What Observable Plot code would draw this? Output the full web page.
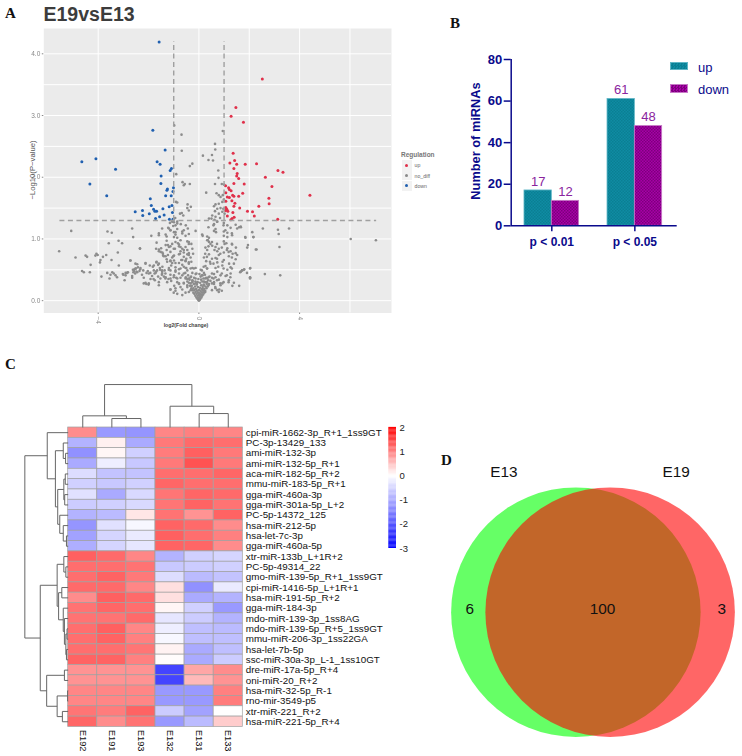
<!DOCTYPE html>
<html><head><meta charset="utf-8">
<script src="https://cdn.jsdelivr.net/npm/d3@7"></script>
<script src="https://cdn.jsdelivr.net/npm/@observablehq/plot@0.6"></script>
<style>
html,body{margin:0;padding:0;background:#fff}
#page{position:relative;width:742px;height:756px;overflow:hidden;font-family:"Liberation Sans",Arial,sans-serif}
#page>div,#page>span{position:absolute}
.p svg{display:block;background:transparent!important}
.let{font:bold 15px "Liberation Serif",serif;color:#111;line-height:1}
</style></head><body><div id="page"></div>
<script>
// ---------- Panel A: volcano ----------
const volcanoTitle = "E19vsE13";
const blueVolcano = [[-1.58,4.19],[-1.83,2.76],[-1.34,2.44],[-4.65,2.25],[-4.09,2.30],[-3.31,2.13],[-4.33,1.89],[-3.66,1.70],[-1.66,2.25],[-1.54,2.21],[-1.09,2.14],[-1.14,2.11],[-1.50,2.02],[-1.51,1.90],[-1.01,1.83],[-1.03,1.77],[-1.25,1.81],[-1.27,1.79],[-1.32,1.70],[-1.10,1.70],[-1.93,1.65],[-1.89,1.54],[-1.80,1.48],[-2.53,1.44],[-2.24,1.46],[-2.23,1.38],[-1.97,1.41],[-1.75,1.45],[-1.68,1.45],[-1.43,1.49],[-1.18,1.52],[-1.07,1.54],[-1.05,1.43],[-1.38,1.39],[-1.56,1.36],[-1.72,1.33],[-1.17,1.32],[-1.03,1.32]];
const redVolcano = [[2.52,3.59],[1.47,3.13],[1.28,2.99],[1.77,2.89],[1.36,2.39],[1.42,2.27],[1.23,2.23],[1.50,2.21],[1.84,2.21],[2.29,2.22],[3.14,2.11],[3.34,2.08],[1.39,2.14],[1.52,2.06],[1.50,2.02],[1.58,1.98],[2.64,2.00],[1.80,1.89],[1.39,1.90],[1.06,1.86],[1.18,1.83],[1.21,1.80],[2.90,1.85],[1.28,1.78],[1.07,1.75],[1.74,1.74],[1.34,1.71],[1.58,1.69],[1.39,1.69],[1.13,1.68],[1.21,1.67],[4.41,1.71],[2.78,1.66],[2.79,1.57],[1.31,1.62],[1.07,1.61],[1.43,1.58],[1.39,1.53],[1.62,1.50],[2.38,1.53],[1.07,1.51],[1.11,1.48],[1.06,1.46],[1.15,1.45],[1.93,1.45],[2.13,1.44],[1.35,1.43],[2.20,1.37],[1.13,1.37],[1.40,1.35],[1.32,1.33],[3.13,1.32],[1.27,1.31]];
const grayVolcano = [
[-.98,2.84],[-.69,2.69],[-.68,2.43],[.95,2.75],[.64,2.54],[.65,2.45],[.16,2.35],[.52,2.36],[.38,2.28],[.56,2.27],[-.26,2.22],[-.36,2.18],[.77,2.11],[.78,1.99],[-.9,2.05],[-.65,1.92],[-.56,1.89],[-.36,1.89],[-.6,1.87],[.29,1.75],[.64,1.89],[.91,1.89],[1,1.88],[.7,1.74],[.79,1.71],[.86,1.68],[.95,1.71],[.99,1.64],[.93,1.6],[.79,1.57],[.66,1.56],[.6,1.53],[.73,1.49],[.86,1.5],[.97,1.49],[.64,1.45],[.53,1.38],[.79,1.41],[.93,1.44],[1.02,1.41],[.66,1.36],[.4,1.33],[.5,1.33],[.62,1.31],[.84,1.34],[-.91,1.6],[-.86,1.59],[-.45,1.56],[-.46,1.5],[-.32,1.52],[-.4,1.46],[-.75,1.41],[-.62,1.38],[-.68,1.42],[-.94,1.34],[-.86,1.28],
[-1.15,1.26],[-1.06,1.28],[-.93,1.22],[-.86,1.25],[-1.02,1.21],[-.99,1.27],[.6,1.24],[.73,1.28],[.99,1.26],[1.13,1.22],[1.66,1.2],[1.46,1.23],[2.54,1.17],[3.14,1.15],[3.58,1.17],[-.72,1.24],[-.52,1.22],
[-5.55,.8],[-5.07,1.13],[-3.63,1.12],[-3.46,1.1],[-2.65,1.17],[-2.61,1.03],[-1.89,1.05],[-3.58,.93],[-3.19,.97],[-3.05,.93],[-2.34,.85],[-4.9,.7],[-4.5,.73],[-4.44,.71],[-4.11,.73],[-4.07,.76],[-4.02,.74],[-3.68,.74],[-3.81,.71],[-3.91,.66],[-3.93,.62],[-4.3,.58],[-4.64,.48],[-4.57,.46],[-4.33,.46],[-3.87,.39],[-3.64,.45],[-3.55,.36],[-3.51,.42],[-3.44,.46],[-3.38,.44],[-3.31,.41],[-3.22,.78],[-3.47,.66],[-3.18,.57],[-3.25,.38],[-3.02,.43],[-2.91,.41],[-2.95,.33],[-2.85,.45],[-2.72,.65],[-2.65,.37],[-2.62,.5],[-2.56,.51],[-2.6,.46],[-2.53,.44],[-2.45,.59],[-2.42,.54],[-2.36,.48],[-2.48,.47],[-2.33,.51],[-2.26,.42],[-2.19,.28],[-2.09,.27],[-2,.26],[-1.92,.35],[-2.12,.61],[-2.03,.48],[-1.95,.57],[-1.8,.35],[-1.69,.62],[-1.62,.58],[-1.54,.5],[-1.47,.42],
[-1.22,1.18],[-1.13,1.14],[-.99,1.11],[-.86,1.16],[-.66,1.12],[-.44,1.17],[-.13,1.13],[.6,1.13],[.66,1.16],[.99,1.12],[1.13,1.1],[1.26,1.18],[1.52,1.17],[2.12,1.11],[-1.59,1.06],[-1.28,1.04],[-.99,1.03],[-.93,1.07],[-.86,1.02],[-.53,1.05],[-.4,1.08],[.13,1.07],[.33,1.04],[.4,1.02],[.99,1.05],[1.13,1.03],[1.32,1.06],[1.85,1.02],[2.16,1.03],[3.17,1.08],[6.03,1],[7.03,.98],
[-1.68,.94],[-1.28,.97],[-1.23,.9],[-1.06,.92],[-.93,.95],[-.83,.93],[-.73,.98],[-.46,.96],[-.4,.92],[.33,.98],[.4,.95],[.46,.92],[.53,.89],[.99,.96],[1.09,.93],[1.32,.91],[1.92,.86],[2.29,.83],[3.2,.87],
[-1.59,.8],[-1.5,.85],[-1.45,.78],[-1.28,.82],[-1.19,.87],[-1.13,.79],[-1,.84],[-.79,.88],[-.73,.8],[-.66,.84],[-.6,.78],[-.53,.87],[-.46,.82],[-.4,.77],[.26,.86],[.33,.82],[.66,.87],[.73,.8],[.79,.84],[.99,.78],[1.13,.85],[1.26,.8],[1.46,.77],
[-1.39,.72],[-1.28,.67],[-1.23,.74],[-1.13,.64],[-1.06,.7],[-.79,.75],[-.7,.66],[-.6,.71],[-.53,.64],[-.4,.74],[.2,.7],[.29,.64],[.4,.75],[.66,.69],[.79,.74],[.99,.66],[1.19,.72],[1.46,.67],[1.52,.74],
[-2.5,.52],[-1.59,.6],[-1.45,.55],[-1.06,.61],[-.93,.54],[-.66,.58],[-.53,.53],[-.4,.62],[.26,.56],[.46,.6],[.66,.53],[.73,.62],[.93,.57],[1.26,.54],[1.39,.6],
[-1.46,.47],[-1.33,.44],[-1.2,.5],[-1.13,.42],[-.93,.47],[-.79,.51],[-.6,.44],[-.46,.49],[-.33,.52],[-.26,.45],[-.2,.52],[-.13,.43],[.07,.5],[.2,.45],[.33,.52],[.6,.43],[.73,.47],[.86,.41],[1.13,.5],[1.26,.44],[1.66,.47],[1.72,.49],[1.79,.5],[2.03,.52],[2.03,.38],
[-2.65,.4],[-2.19,.37],[-1.33,.36],[-1.1,.32],[-1,.38],[-.86,.3],[-.73,.37],[-.6,.29],[-.46,.35],[-.33,.38],[-.26,.3],[-.13,.36],[-.07,.29],[.07,.39],[.2,.31],[.33,.36],[.6,.3],[.66,.38],[.79,.34],[.93,.28],[1.06,.4],[1.19,.33],[1.39,.29],[2.03,.36],[2.62,.43],[3.23,.41],
[-.93,.2],[-.79,.27],[-.66,.18],[-.46,.25],[-.33,.17],[.6,.27],[.66,.2],[.73,.17],[.86,.25],[.79,.14],[1.33,.24],[-1.13,.18],[-1,.13],[-.86,.11],[-.66,.09],[-.53,.13],
[0,0],[.03,.01],[-.03,.015],[.06,.03],[-.06,.03],[.02,.04],[-.02,.05],[.1,.05],[-.1,.05],[.05,.07],[-.05,.08],[.13,.08],[-.14,.08],[0,.09],[.09,.1],[-.09,.11],[.17,.1],[-.18,.11],[.03,.12],[-.03,.13],[.13,.13],[-.13,.14],[.21,.13],[-.22,.13],[.07,.15],[-.07,.16],[.17,.16],[-.18,.17],[.25,.16],[-.26,.17],[0,.17],[.11,.18],[-.11,.19],[.21,.19],[-.22,.2],[.3,.2],[-.3,.2],[.04,.21],[-.04,.22],[.15,.22],[-.15,.23],[.26,.23],[-.28,.24],[.35,.23],[-.35,.24],[.09,.25],[-.08,.26],[.19,.26],[-.2,.27],[.31,.27],[-.33,.28],[.4,.27],[-.4,.29],[.05,.29],[-.05,.3],[.14,.31],[-.14,.31],[.24,.3],[-.25,.32],[.46,.32],[-.46,.31],[.37,.33],[-.37,.34],[.09,.34],[-.02,.35],[.18,.36],[-.19,.37],[.29,.37],[-.31,.39],[.52,.37],[-.52,.38],[.42,.39],[-.43,.41],[.12,.41],[.02,.43],[.24,.42],[-.1,.44],[.52,.44],[-.54,.45],
[-1.93,.45],[-1.86,.4],[-1.76,.44],[-1.7,.47],[-1.62,.39],[-1.53,.36],[-1.39,.39],[-1.26,.3],[-1.21,.35],[-.98,.24],[-.9,.37]
];
const grayVolcanoLeft = [[-2.91,.45],[-3,.42],[-2.82,.46],[-2.58,.48],[-2.52,.52],[-2.45,.46],[-2.32,.53],[-2.21,.49],[-2.12,.6],[-2.08,.45],[-1.99,.44],[-1.83,.55],[-1.79,.49],[-1.72,.45],[-1.66,.49],[-1.55,.53],[-1.46,.49],[-1.36,.49],[-1.26,.63],[-1.13,.65],[-.99,.65],[-1.02,.72],[-1.1,.57],[-.93,.61],[-.79,.61],[-.73,.52],[-.6,.55],[-.5,.53],[-.26,.53],[-.13,.53],[-1.7,.84],[-1.59,.83],[-1.52,.79],[-1.43,.76],[-1.32,.9],[-1.13,.88],[-.95,.84],[-.79,.91],[-.73,.87],[-.6,.82],[-.4,.95],[-.3,.92],[-.26,.84],[-.23,.76],[-.33,.7],[-.5,.68],[-.66,.66],[-.75,.76],[-.46,.75],[-.3,.63],[-1.13,1.14],[-.93,1.11],[-.66,1.09],[-.6,1.14],[-1.19,1.17],[-1.32,1.07],[-1.59,1.09],[-1.46,1.17],[-1.42,.73],[-1.32,.72],[-.99,.73],[-1.79,.57],[-1.68,.63],[-.99,.41],[-.79,.44],[-.66,.41],[-.86,.36],[-1.13,.36],[-1.32,.38],[-1.46,.44],[-1.75,.33],[-1.59,.3],[-1.59,.25],[-2.12,.29],[-1.99,.28],[-1.13,.18],[-.93,.16],[-.53,.36],[-.4,.36],[-.26,.33],[-.13,.28],[-.6,.28],[-.46,.22],[-.4,.14],[-.73,.22],[-.79,.28],[-.93,.49],[-1.13,.49],[-1.19,.53],[-.4,.6],[-.53,.65],[-2.52,.6],[-2.72,.65],[-2.34,.84]];
const grayVolcanoRight = [[.15,1.05],[.38,1.19],[.58,1.22],[.72,1.28],[.98,1.22],[.68,1.11],[1.05,1.14],[1.31,1.09],[1.6,1.19],[1.67,1.19],[1.84,1.03],[2.17,1.03],[1.95,.9],[2.26,.83],[.36,.98],[.52,.95],[.38,.88],[.62,.82],[.72,.92],[.91,.86],[1.11,.82],[1.18,.79],[1.02,.92],[1.31,.92],[1.47,.86],[1.34,.76],[.25,.76],[.32,.71],[.52,.68],[.44,.63],[.58,.6],[.72,.68],[.85,.76],[.94,.63],[1.31,.7],[1.2,.6],[.77,.55],[.98,.52],[1.31,.52],[.19,.55],[.32,.52],[.12,.49],[1.64,.46],[1.71,.49],[1.8,.51],[1.91,.45],[2.04,.53],[2.04,.37],[.91,.44],[1.11,.41],[1.25,.38],[1.18,.3],[1.6,.24],[.58,.36],[.72,.33],[.52,.28],[.85,.28],[.98,.3],[.65,.22],[.81,.18],[.91,.16],[.38,.38],[.25,.36],[.15,.41],[.38,.25],[.52,.17],[.32,.3],[.19,.25],[.12,.19],[.25,.14]];
const xTicksA = [-4,0,4], yTicksA = [0,1,2,3,4];
const xGridA = [-4,0,2,4,6], yGridA = [0,.5,1,1.5,2,2.5,3,3.5,4];
const legendA = [["up","#e0304a"],["no_diff","#8a8a8a"],["down","#2060b0"]];

// ---------- Panel B: bars ----------
const pGroups = ["p < 0.01","p < 0.05"];
const upCounts = [17,61], downCounts = [12,48];

// ---------- Panel C: heatmap ----------
const samples = ["E192","E191","E193","E132","E131","E133"];
const mirnas = ["cpi-miR-1662-3p_R+1_1ss9GT","PC-3p-13429_133","ami-miR-132-3p","ami-miR-132-5p_R+1","aca-miR-182-5p_R+2","mmu-miR-183-5p_R+1","gga-miR-460a-3p","gga-miR-301a-5p_L+2","PC-5p-14372_125","hsa-miR-212-5p","hsa-let-7c-3p","gga-miR-460a-5p","xtr-miR-133b_L+1R+2","PC-5p-49314_22","gmo-miR-139-5p_R+1_1ss9GT","cpi-miR-1416-5p_L+1R+1","hsa-miR-191-5p_R+2","gga-miR-184-3p","mdo-miR-139-3p_1ss8AG","mdo-miR-139-5p_R+5_1ss9GT","mmu-miR-206-3p_1ss22GA","hsa-let-7b-5p","ssc-miR-30a-3p_L-1_1ss10GT","dre-miR-17a-5p_R+4","oni-miR-20_R+2","hsa-miR-32-5p_R-1","rno-mir-3549-p5","xtr-miR-221_R+2","hsa-miR-221-5p_R+4"];
const expression = [
[0.9,-1.2,-1.25,0.95,1.0,0.95],[-0.9,0.12,-1.0,1.05,1.17,1.14],[-1.3,0.07,-0.55,1.03,1.25,1.05],[-1.0,-0.2,-0.65,1.05,1.36,1.05],[-0.4,-0.7,-0.7,1.14,1.14,1.2],[-0.55,-0.65,-0.55,1.2,1.14,1.14],[-0.35,-1.0,-0.45,1.08,1.2,1.17],[-0.6,-0.55,-0.45,1.08,1.22,1.1],[-0.9,-0.8,0.2,1.1,0.85,1.22],[-1.25,-0.35,-0.1,1.22,1.17,0.9],[-1.1,-0.5,-0.25,1.25,1.14,1.0],[-0.95,-0.5,-0.3,1.22,1.2,0.9],
[1.25,1.17,0.95,-0.9,-0.55,-0.5],[1.14,1.14,1.1,-0.65,-0.6,-0.55],[1.14,1.22,1.05,-0.4,-0.8,-0.7],[1.17,1.17,0.95,0.25,-1.3,-0.25],[0.9,1.25,1.17,0.25,-1.0,-0.9],[1.1,1.2,1.14,0.07,-0.55,-1.2],[1.1,1.1,1.17,-0.3,-0.6,-0.9],[1.14,1.25,0.95,-0.2,-0.75,-0.8],[1.14,1.22,1.0,-0.1,-0.75,-0.75],[1.14,1.14,1.08,0.1,-1.0,-0.75],[1.22,1.22,1.0,0.02,-1.0,-0.6],
[0.85,0.85,0.85,-2.2,0.7,0.9],[0.85,0.85,0.85,-2.2,0.55,0.85],[0.95,0.95,0.95,-1.2,-1.2,1.0],[0.95,0.95,0.95,-1.2,-1.2,1.03],[1.08,1.03,1.22,-0.6,-1.1,0.0],[1.2,0.9,1.1,-1.2,-0.8,0.4]];
// dendrograms: [height, childA, childB]; a number is a leaf index
const columnTree = [4.16,[1.13,0,[0.87,1,2]],[2.06,3,[1.35,4,5]]];
const rowTree = [1.49,
 [0.72,0,[0.44,[0.17,1,[0.09,2,3]],[0.36,[0.15,[0.1,4,5],[0.12,6,7]],[0.29,8,[0.17,9,[0.06,10,11]]]]]],
 [0.96,
  [0.38,[0.15,12,[0.08,13,14]],[0.33,[0.22,15,16],[0.17,17,[0.13,18,[0.08,[0.04,19,20],[0.06,21,22]]]]]],
  [0.74,[0.13,23,24],[0.38,[0.02,25,26],[0.2,27,28]]]]];
const colorTicks = [2,1,0,-1,-2,-3];

// ---------- Panel D: venn ----------
const vennSets = [{name:"E13",c:-0.5,fill:"#00ff00"},{name:"E19",c:0.5,fill:"#ff0000"}];
const vennCounts = [{n:"6",x:-3.6},{n:"100",x:0.28},{n:"3",x:3.76}];
const vennNames = [{n:"E13",x:-2.6},{n:"E19",x:2.43}];

const page = document.getElementById("page");
const place = (el,l,t)=>{const d=document.createElement("div");d.className="p";d.style.left=l+"px";d.style.top=t+"px";d.append(el);page.append(d);return d;};
const label=(txt,l,t,css)=>{const s=document.createElement("span");s.textContent=txt;s.style.cssText=`left:${l}px;top:${t}px;white-space:nowrap;line-height:1;${css||""}`;page.append(s);return s;};

// Panel A
const gA = "#888";
const plotA = Plot.plot({
  width:400,height:336,marginLeft:43.3,marginRight:9,marginTop:28,marginBottom:23.5,
  style:{background:"transparent",fontFamily:"Liberation Sans"},
  x:{domain:[-6.16,7.65],label:null},
  y:{domain:[-0.2,4.41],label:null},
  marks:[
    Plot.frame({fill:"#ebebeb",stroke:null}),
    Plot.gridY(yGridA,{stroke:"#fff",strokeOpacity:1,strokeWidth:1}),
    Plot.gridX(xGridA,{stroke:"#fff",strokeOpacity:1,strokeWidth:1}),
    Plot.axisX(xTicksA,{fontSize:6.5,tickSize:1.5,tickRotate:90,tickPadding:2,color:gA,label:null}),
    Plot.axisY(yTicksA,{fontSize:6.5,tickSize:1.5,tickPadding:2,color:gA,label:null}),
    Plot.dot(grayVolcano.concat(grayVolcanoLeft,grayVolcanoRight),{x:d=>d[0],y:d=>d[1],r:1.3,fill:"#8c8c8c"}),
    Plot.dot(blueVolcano,{x:d=>d[0],y:d=>d[1],r:1.5,fill:"#2060b0"}),
    Plot.dot(redVolcano,{x:d=>d[0],y:d=>d[1],r:1.5,fill:"#e0304a"}),
    Plot.ruleY([1.3],{x1:-5.52,x2:7.06,stroke:"#a0a0a0",strokeWidth:1.4,strokeDasharray:"5 3.5"}),
    Plot.ruleX([-1,1],{y1:1.3,y2:4.2,stroke:"#a0a0a0",strokeWidth:1.4,strokeDasharray:"5 3.5"})
  ]});
const placedA = place(plotA,0,0);
placedA.style.filter="blur(.3px)";
label(volcanoTitle,43.5,3,'font:bold 19.5px "Liberation Sans";color:#3c3c3c');
label("−Log10(P−value)",31.5,170,'font:7.7px "Liberation Sans";color:#555;transform:translate(-50%,-50%) rotate(-90deg)');
label("log2(Fold change)",186,325,'font:bold 5.2px "Liberation Sans";color:#444;transform:translate(-50%,-50%)');
label("Regulation",401,151,'font:bold 6.5px "Liberation Sans";color:#777');
legendA.forEach(([n,c],i)=>{
  const y=165+i*10.4;
  const key=document.createElement("div");
  key.style.cssText=`position:absolute;left:401.5px;top:${y-5}px;width:10px;height:10px;background:#f2f2f2`;
  const dot=document.createElement("div");
  dot.style.cssText=`position:absolute;left:3.5px;top:3.5px;width:3px;height:3px;border-radius:50%;background:${c}`;
  key.append(dot);page.append(key);
  label(n,414.5,y-2.6,'font:5.2px "Liberation Sans";color:#666');
});

// Panel B
const navy="#0a0a8c";
const barW=0.329;
const bars = pGroups.flatMap((g,i)=>[
  {g:i,series:"up",v:upCounts[i],x1:i-barW,x2:i},
  {g:i,series:"down",v:downCounts[i],x1:i,x2:i+barW}]);
const defs = ()=>{
  const svg=d3.create("svg:defs");
  const pat=(id,a,b)=>{const p=svg.append("pattern").attr("id",id).attr("width",3).attr("height",3).attr("patternUnits","userSpaceOnUse");
    p.append("rect").attr("width",3).attr("height",3).attr("fill",a);
    p.append("rect").attr("width",1.5).attr("height",1.5).attr("fill",b);
    p.append("rect").attr("x",1.5).attr("y",1.5).attr("width",1.5).attr("height",1.5).attr("fill",b);};
  pat("pUp","#0f8ca3","#0a7f93");pat("pDown","#a800a8","#7c007c");
  return svg.node();
};
const plotB = Plot.plot({
  width:262,height:262,marginLeft:60.7,marginRight:35.3,marginTop:59,marginBottom:36.7,
  style:{background:"transparent",fontFamily:"Liberation Sans"},
  x:{domain:[-0.489,1.51],label:null},
  y:{domain:[0,80],label:null},
  marks:[
    defs,
    Plot.rect(bars,{x1:"x1",x2:"x2",y1:0,y2:"v",fill:d=>d.series==="up"?"url(#pUp)":"url(#pDown)",stroke:d=>d.series==="up"?"#5fb6c6":"#c77ac7",strokeWidth:.8}),
    Plot.text(bars,{x:d=>d.series==="up"?d.g-barW/2:d.g+barW/2,y:"v",text:d=>String(d.v),dy:-9,fontSize:13,fill:"#8a249e"}),
    Plot.axisY([0,20,40,60,80],{tickSize:7,tickPadding:2,fontSize:13,fontWeight:"bold",color:navy,stroke:navy,strokeWidth:1.5,label:null}),
    Plot.axisX([0,1],{tickSize:6,tickPadding:6,fontSize:12,fontWeight:"bold",color:navy,stroke:navy,strokeWidth:1.5,tickFormat:i=>pGroups[i],label:null}),
    Plot.ruleY([0],{stroke:navy,strokeWidth:1.5}),
    Plot.ruleX([-0.489],{y1:0,y2:80,stroke:navy,strokeWidth:1.5})
  ]});
place(plotB,450,0);
label("Number of miRNAs",475,141,`font:bold 12.8px "Liberation Sans";color:${navy};transform:translate(-50%,-50%) rotate(-90deg)`);
[["up","#0f8ca3","#0a7f93","#5fb6c6",61.7],["down","#a800a8","#7c007c","#c77ac7",84]].forEach(([n,a,b,st,y])=>{
  const k=document.createElement("div");
  k.style.cssText=`position:absolute;left:670px;top:${y}px;width:18px;height:8.6px;box-sizing:border-box;border:.8px solid ${st};background:repeating-conic-gradient(${b} 0 25%,${a} 0 50%) 0 0/3px 3px`;
  page.append(k);
  label(n,698,y-2,`font:13px "Liberation Sans";color:${navy}`);
});

// Panel C
const cells = expression.flatMap((r,i)=>r.map((v,j)=>({i,j,v})));
const colorC = {type:"linear",domain:[-3,0,2],range:["#0000ff","#ffffff","#ff0000"],interpolate:"rgb"};
function treeSegments(t,out){
  if(typeof t==="number") return {p:t+.5,h:0};
  const a=treeSegments(t[1],out), b=treeSegments(t[2],out), h=t[0];
  out.push({p1:a.p,h1:a.h,p2:a.p,h2:h},{p1:a.p,h1:h,p2:b.p,h2:h},{p1:b.p,h1:b.h,p2:b.p,h2:h});
  return {p:(a.p+b.p)/2,h};
}
const rowSegs=[], colSegs=[];
treeSegments(rowTree,rowSegs); treeSegments(columnTree,colSegs);
const cw=29.1, rh=10.325;
const plotC = Plot.plot({
  width:385,height:376,marginLeft:67.7,marginRight:385-67.7-6*cw,marginTop:47,marginBottom:376-47-29*rh,
  style:{background:"transparent",fontFamily:"Liberation Sans",overflow:"visible"},
  x:{axis:null,domain:[0,6]},
  y:{axis:null,domain:[29,0]},
  color:colorC,
  marks:[
    Plot.rect(cells,{x1:"j",x2:d=>d.j+1,y1:"i",y2:d=>d.i+1,fill:"v",stroke:"#a0a0a0",strokeWidth:.7}),
    Plot.link(rowSegs,{x1:d=>-d.h1,x2:d=>-d.h2,y1:"p1",y2:"p2",stroke:"#666",strokeWidth:1}),
    Plot.link(colSegs,{x1:"p1",x2:"p2",y1:d=>-d.h1,y2:d=>-d.h2,stroke:"#666",strokeWidth:1}),
    Plot.text(mirnas,{x:6,y:(d,i)=>i+.5,text:d=>d,textAnchor:"start",dx:3,fontSize:9.8,fill:"#111"}),
    Plot.text(samples,{x:(d,i)=>i+.5,y:29,text:d=>d,rotate:90,textAnchor:"start",dy:3,fontSize:9.2,fill:"#111"})
  ]});
place(plotC,0,380);
const plotCB = Plot.plot({
  width:40,height:131,marginLeft:8.3,marginRight:24,marginTop:5,marginBottom:5,
  style:{background:"transparent",fontFamily:"Liberation Sans"},
  x:{axis:null,domain:[0,1]},
  y:{domain:[-3,2],label:null},
  color:colorC,
  marks:[
    Plot.rect(d3.range(-3,2,0.05),{x1:0,x2:1,y1:d=>d,y2:d=>d+0.055,fill:d=>d+0.025}),
    Plot.axisY(colorTicks,{anchor:"right",tickSize:0,tickPadding:3,fontSize:9.5,label:null,color:"#222",tickFormat:d=>String(d)})
  ]});
place(plotCB,380,422);

// Panel D
const pxU=34.6;
const plotD = Plot.plot({
  width:302,height:300,marginLeft:0,marginRight:0,marginTop:0,marginBottom:0,
  style:{background:"transparent",fontFamily:"Liberation Sans"},
  x:{axis:null,domain:[-151/pxU,151/pxU]},
  y:{axis:null,domain:[-158.3/pxU,141.7/pxU],reverse:true},
  marks:[
    Plot.dot(vennSets,{x:"c",y:0,r:126,fill:"fill",fillOpacity:.6,stroke:null}),
    Plot.text(vennCounts,{x:"x",y:-0.08,text:"n",fontSize:15.5,fill:"#111"}),
    Plot.text(vennNames,{x:"x",y:-4.1,text:"n",fontSize:15.5,fill:"#111"})
  ]});
place(plotD,443,455);

// panel letters
[["A",5,6],["B",450,16],["C",5,357],["D",441,453]].forEach(([t,x,y])=>{const s=label(t,x,y);s.className="let";});
</script></body></html>
